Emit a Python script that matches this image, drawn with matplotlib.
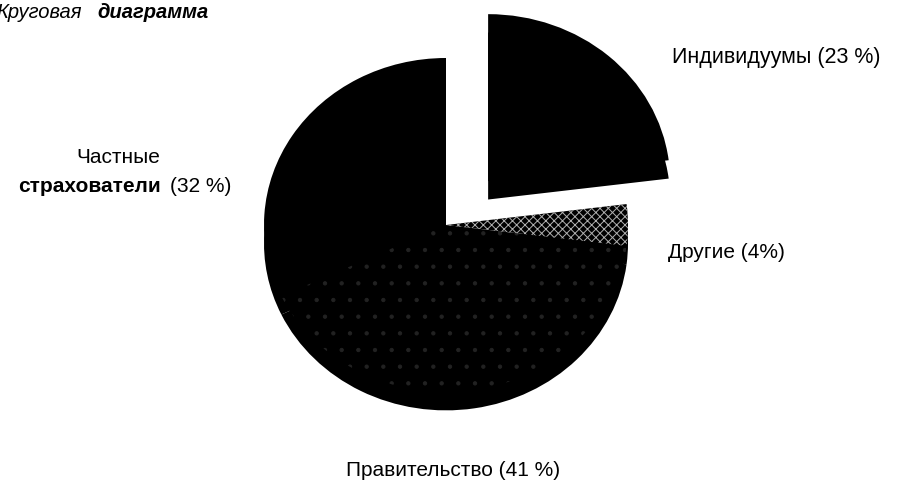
import numpy as np
import matplotlib.pyplot as plt

plt.rcParams['font.family'] = ['Liberation Sans', 'DejaVu Sans']
plt.rcParams['hatch.linewidth'] = 0.7

# доли секторов (против часовой стрелки от вершины)
labels = ["Частные страхователи", "Правительство", "Другие", "Индивидуумы"]
shares = [32, 41, 4, 23]
explode = [0, 0, 0, 0.35]

W, H = 899, 486
fig = plt.figure(figsize=(W / 100, H / 100), dpi=100)
ax = fig.add_axes([0, 0, 1, 1])

# центр круга в пикселях и радиусы эллипса
cx, cy = 446, 225
rx, ry = 182, 167
depth = 0.11

# боковая стенка (тот же круг, сдвинутый вниз)
ax.pie(shares, startangle=90, counterclock=True, explode=explode,
       colors=["black"] * 4, center=(0, -depth),
       wedgeprops=dict(linewidth=0))

# верхняя грань
wedges, _ = ax.pie(shares, startangle=90, counterclock=True, explode=explode,
                   colors=["black"] * 4, center=(0, 0),
                   wedgeprops=dict(linewidth=0))
wedges[1].set_edgecolor("#222222")
wedges[1].set_hatch(".")
wedges[2].set_edgecolor("#b0b0b0")
wedges[2].set_hatch("xxxx")

ax.set_aspect("auto")
ax.set_xlim(-cx / rx, (W - cx) / rx)
ax.set_ylim((cy - H) / ry, cy / ry)
ax.axis("off")


def fx(px):
    return px / W


def fy(py):
    return 1 - py / H


fs = 15
fig.text(fx(-4), fy(13), "Круговая", fontsize=14.5, style="italic", va="center")
fig.text(fx(97), fy(13), "диаграмма", fontsize=14.5, style="italic",
         weight="bold", va="center")

fig.text(fx(672), fy(57), "Индивидуумы (23 %)", fontsize=15.5, va="center")
fig.text(fx(118), fy(157), "Частные", fontsize=fs, va="center", ha="center")
fig.text(fx(161), fy(186), "страхователи", fontsize=fs, weight="bold",
         va="center", ha="right")
fig.text(fx(170), fy(186), "(32 %)", fontsize=fs, va="center")
fig.text(fx(668), fy(252), "Другие (4%)", fontsize=fs, va="center")
fig.text(fx(453), fy(470), "Правительство (41 %)", fontsize=fs,
         va="center", ha="center")

fig.savefig("out.png", dpi=100)
